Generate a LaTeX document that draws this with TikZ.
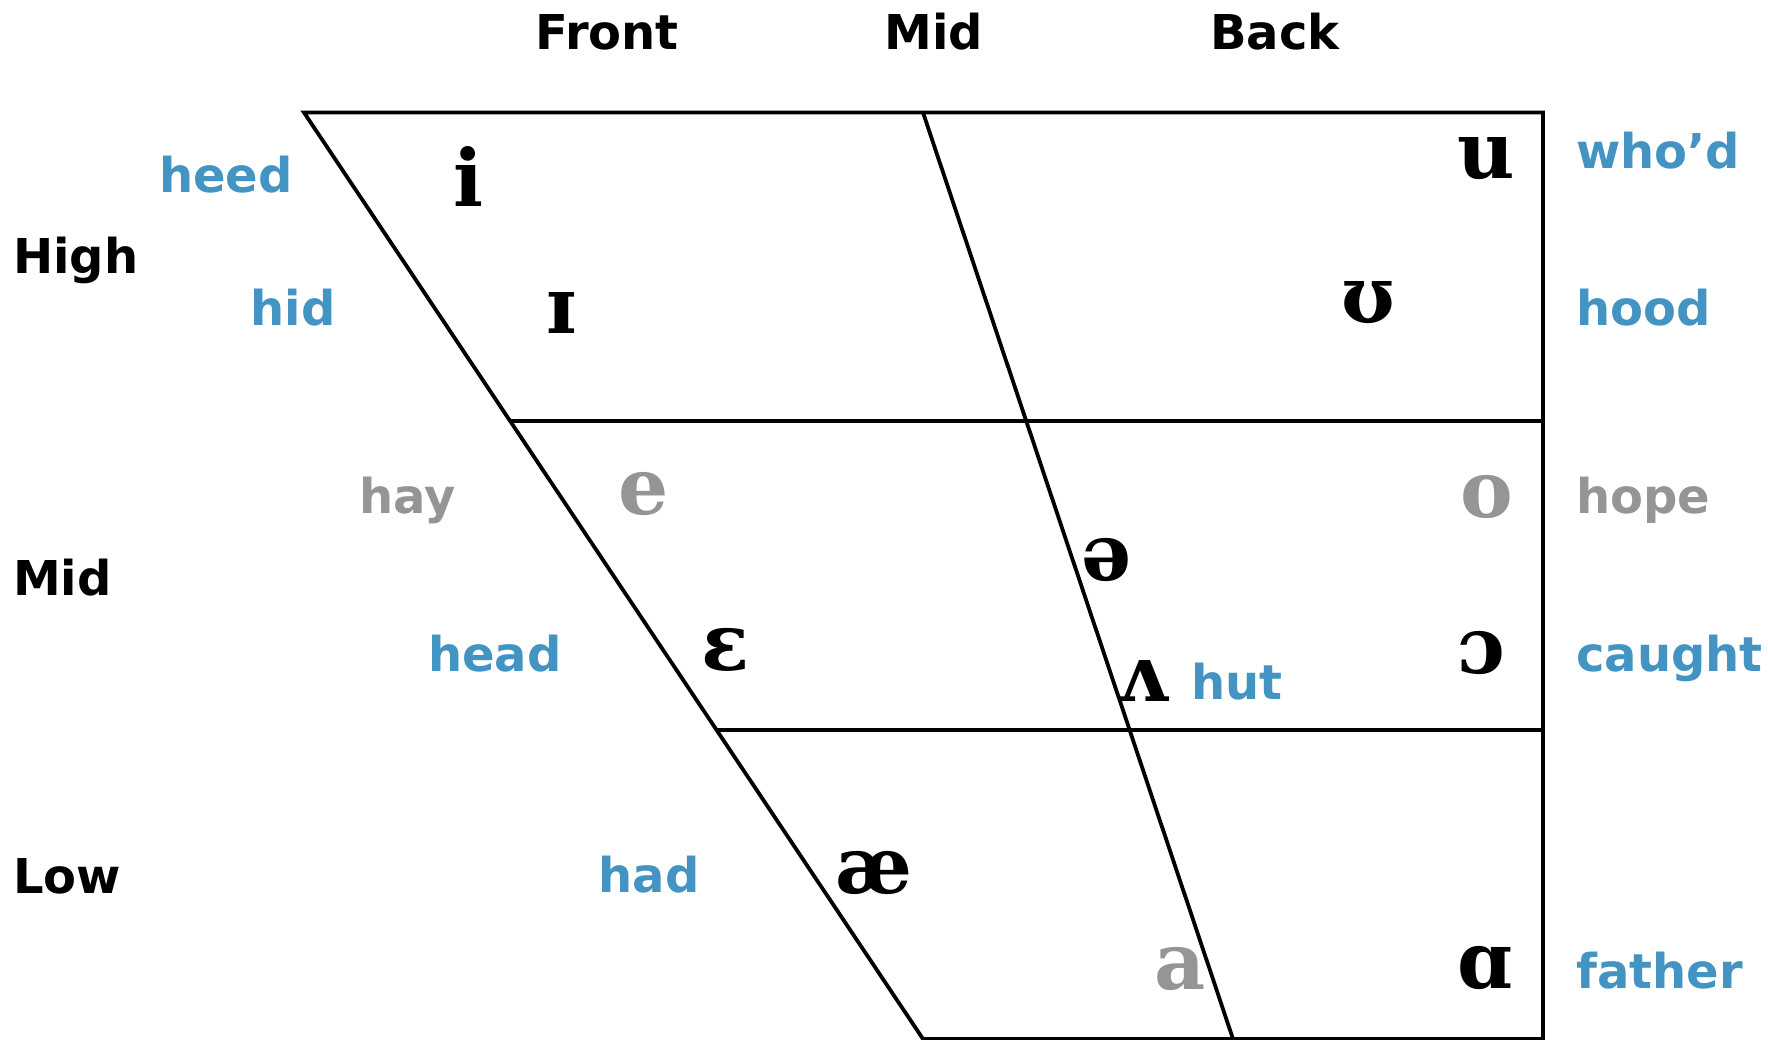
\documentclass[tikz,border=0pt]{standalone}
\usepackage{fontspec}
\setmainfont{DejaVu Sans}
\newfontfamily\ipafont{DejaVu Serif}
\usetikzlibrary{calc}
\definecolor{wblue}{HTML}{4393C3}
\definecolor{wgrey}{HTML}{959595}
\tikzset{
  word/.style={font=\fontsize{48}{56}\selectfont\bfseries, inner sep=0pt, anchor=base},
  bword/.style={word, text=wblue},
  gword/.style={word, text=wgrey},
  ipa/.style={font=\ipafont\fontsize{79}{90}\selectfont\bfseries, inner sep=0pt, anchor=center},
  gipa/.style={ipa, text=wgrey},
  frame/.style={line width=3.8pt, line join=miter}
}
\begin{document}
\begin{tikzpicture}[x=1pt,y=-1pt]
\useasboundingbox (0,0) rectangle (1768,1040);
\coordinate (TL) at (304,112.5);
\coordinate (TM) at (923,112.5);
\coordinate (TR) at (1543,112.5);
\coordinate (BL) at (923,1039);
\coordinate (BM) at (1233,1039);
\coordinate (BR) at (1543,1039);
\coordinate (H1L) at ($(TL)!1/3!(BL)$);
\coordinate (H2L) at ($(TL)!2/3!(BL)$);
\coordinate (H1R) at (TR |- H1L);
\coordinate (H2R) at (TR |- H2L);
\draw[frame] (TL) -- (TR) -- (BR) -- (BL) -- cycle;
\draw[frame] (TM) -- (BM);
\draw[frame] (H1L) -- (H1R);
\draw[frame] (H2L) -- (H2R);
% column headings
\node[word] (front) at (607,50) {Front};
\node[word] (midtop) at (934,50) {Mid};
\node[word] (back) at (1275,50) {Back};
% row headings
\node[word, anchor=base west] (high) at (13,274) {High};
\node[word, anchor=base west] (midleft) at (13,595) {Mid};
\node[word, anchor=base west] (low) at (13,893) {Low};
% example words left
\node[bword] (heed) at (226,193) {heed};
\node[bword] (hid) at (293,325) {hid};
\node[gword] (hay) at (408,513) {hay};
\node[bword] (head) at (495,671) {head};
\node[bword] (had) at (649,892) {had};
\node[bword] (hut) at (1237,699) {hut};
% example words right
\node[bword, anchor=base west] (whod) at (1576,169) {who’d};
\node[bword, anchor=base west] (hood) at (1576,325) {hood};
\node[gword, anchor=base west] (hope) at (1576,513) {hope};
\node[bword, anchor=base west] (caught) at (1576,671) {caught};
\node[bword, anchor=base west] (father) at (1576,988) {father};
% vowels
\node[ipa] (vi) at (468,176) {i};
\node[ipa] (vI) at (561,313) {ɪ};
\node[ipa] (vu) at (1486,159) {u};
\node[ipa] (vU) at (1368,303) {ʊ};
\node[gipa] (ve) at (644,494) {e};
\node[gipa] (vo) at (1487,497) {o};
\node[ipa] (vschwa) at (1107,560) {ə};
\node[ipa] (veps) at (726,650) {ɛ};
\node[ipa] (vwedge) at (1143,681) {ʌ};
\node[ipa] (vopeno) at (1482,653) {ɔ};
\node[ipa] (vae) at (874,873) {æ};
\node[gipa] (va) at (1180,969) {a};
\node[ipa] (valpha) at (1485,968) {ɑ};
\end{tikzpicture}
\end{document}
